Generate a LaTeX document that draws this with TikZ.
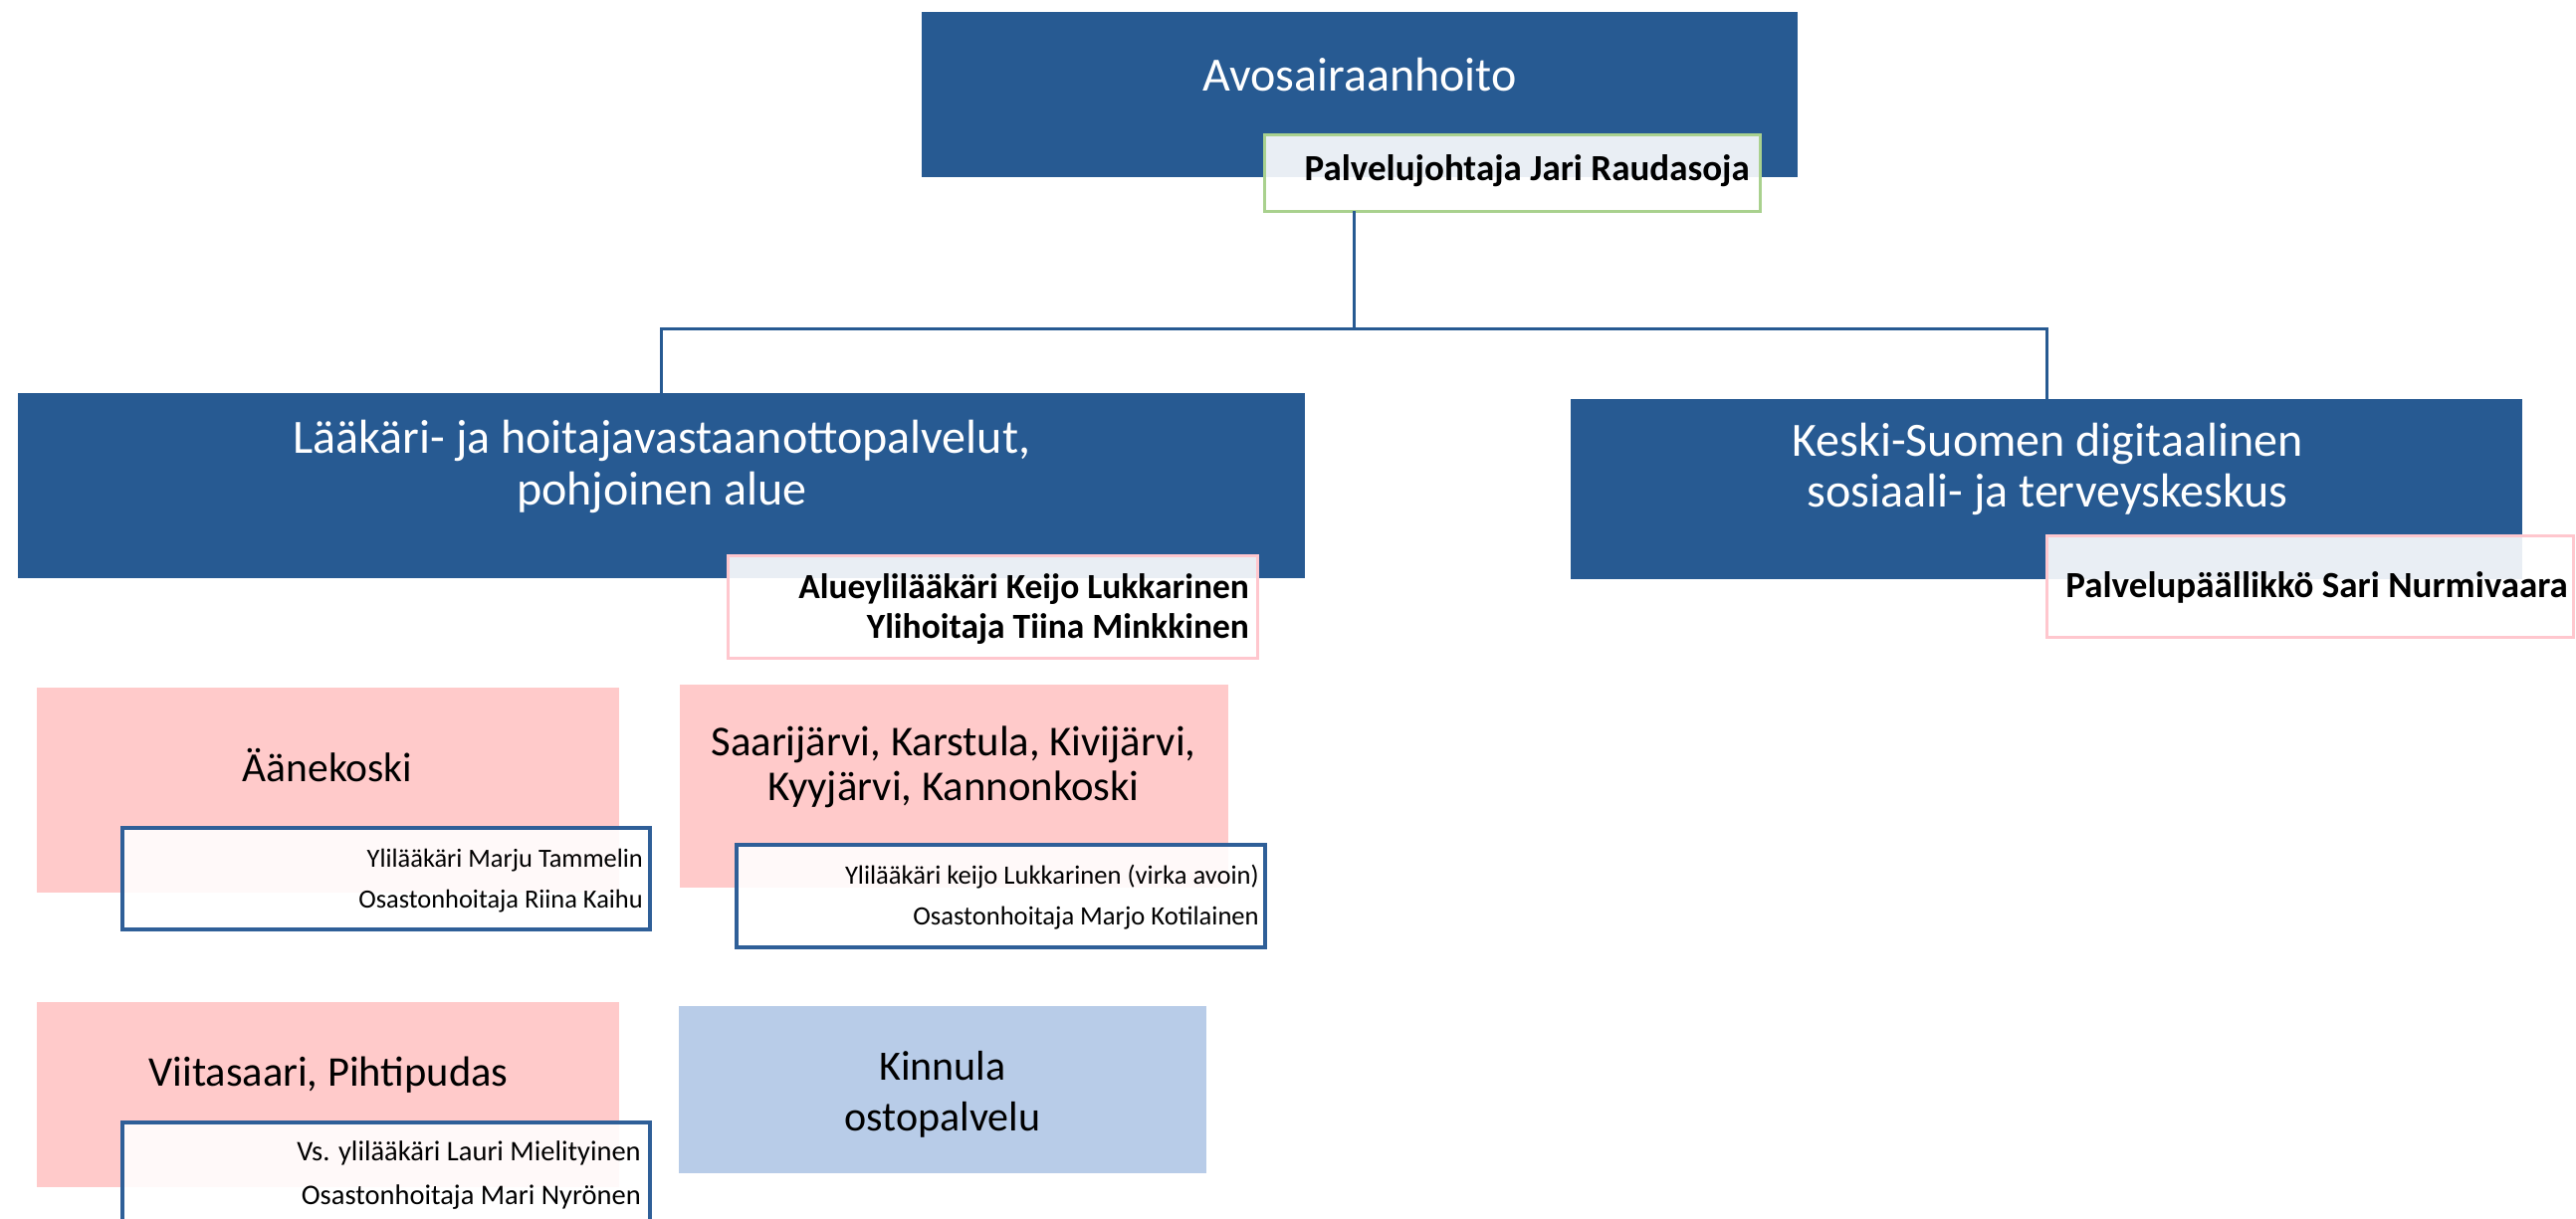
\documentclass[tikz,border=0pt]{standalone}
\usepackage{fontspec}
\setmainfont{Carlito}
\definecolor{dblue}{RGB}{39,90,146}
\definecolor{lpink}{RGB}{255,202,202}
\definecolor{lblue}{RGB}{184,204,232}
\definecolor{lgreen}{RGB}{169,209,142}
\definecolor{pinkline}{RGB}{255,199,206}
\definecolor{subline}{RGB}{47,95,152}
\begin{document}
\begin{tikzpicture}[x=1pt,y=-1pt,
  box/.style={anchor=north west, inner sep=0pt, outer sep=0pt},
  mainbox/.style={box, fill=dblue},
  namebox/.style={box, fill=white, fill opacity=0.9, line width=3pt},
  unitbox/.style={box, fill=lpink},
  subbox/.style={box, fill=white, fill opacity=0.9, draw=subline, line width=3.5pt},
  ttl/.style={anchor=base, inner sep=0pt, text=white, font=\fontsize{48}{56}\selectfont},
  boss/.style={anchor=base east, inner sep=0pt, font=\fontsize{36}{42}\selectfont\bfseries},
  unittext/.style={anchor=base, inner sep=0pt, font=\fontsize{42.5}{50}\selectfont},
  subtext/.style={anchor=base east, inner sep=0pt, font=\fontsize{26.4}{30}\selectfont},
  conn/.style={draw=dblue, line width=3pt}]
\useasboundingbox (0,0) rectangle (2588,1224);
\fill[white] (0,0) rectangle (2588,1224);

% boxes
\node[mainbox, minimum width=880pt, minimum height=166pt] (top) at (926,12) {};
\node[namebox, draw=lgreen, minimum width=498pt, minimum height=77pt] (palv) at (1270,135) {};
\node[mainbox, minimum width=1293pt, minimum height=186pt] (left) at (18,395) {};
\node[namebox, draw=pinkline, minimum width=532pt, minimum height=103pt] (alue) at (731,558) {};
\node[mainbox, minimum width=956pt, minimum height=181pt] (right) at (1578,401) {};
\node[namebox, draw=pinkline, minimum width=529pt, minimum height=102pt] (palvp) at (2056,538) {};

\node[unitbox, minimum width=585pt, minimum height=206pt] (aane) at (37,691) {};
\node[subbox, minimum width=530pt, minimum height=102pt] (aanesub) at (123,832) {};
\node[unitbox, minimum width=551pt, minimum height=204pt] (saari) at (683,688) {};
\node[subbox, minimum width=531pt, minimum height=103pt] (saarisub) at (740,849) {};
\node[unitbox, minimum width=585pt, minimum height=186pt] (viita) at (37,1007) {};
\node[subbox, minimum width=530pt, minimum height=110pt] (viitasub) at (123,1128) {};
\node[box, fill=lblue, minimum width=530pt, minimum height=168pt] (kinnula) at (682,1011) {};

% connectors
\coordinate (j) at (1360,330);
\draw[conn] (palv.south -| j) -- (j);
\draw[conn] (j) -- (j -| left.north) -- (left.north);
\draw[conn] (j) -- (j -| right.north) -- (right.north);

% texts
\node[ttl] (ttop) at (1366,91) {Avosairaanhoito};
\node[boss, font=\fontsize{37}{42}\selectfont\bfseries] (tpalv) at (1758,181) {Palvelujohtaja Jari Raudasoja};

\node[ttl] (tleft1) at (665,455) {Lääkäri- ja hoitajavastaanottopalvelut,};
\node[ttl] (tleft2) at (665,507) {pohjoinen alue};
\node[boss, font=\fontsize{35.5}{42}\selectfont\bfseries] (talue1) at (1255,601) {Alueylilääkäri Keijo Lukkarinen};
\node[boss, font=\fontsize{35.5}{42}\selectfont\bfseries] (talue2) at (1255,641) {Ylihoitaja Tiina Minkkinen};

\node[ttl] (tright1) at (2057,458) {Keski-Suomen digitaalinen};
\node[ttl] (tright2) at (2057,509) {sosiaali- ja terveyskeskus};
\node[boss, font=\fontsize{37}{42}\selectfont\bfseries] (tpalvp) at (2580,600) {Palvelupäällikkö Sari Nurmivaara};

\node[unittext, font=\fontsize{41.5}{50}\selectfont] (taane) at (329,785) {Äänekoski};
\node[subtext] (taanesub1) at (646,871) {Ylilääkäri Marju Tammelin};
\node[subtext] (taanesub2) at (646,912) {Osastonhoitaja Riina Kaihu};

\node[unittext, font=\fontsize{42.7}{50}\selectfont] (tsaari1) at (958,759) {Saarijärvi, Karstula, Kivijärvi,};
\node[unittext, font=\fontsize{42.7}{50}\selectfont] (tsaari2) at (958,804) {Kyyjärvi, Kannonkoski};
\node[subtext, font=\fontsize{26.6}{30}\selectfont] (tsaarisub1) at (1265,888) {Ylilääkäri keijo Lukkarinen (virka avoin)};
\node[subtext, font=\fontsize{26.6}{30}\selectfont] (tsaarisub2) at (1265,929) {Osastonhoitaja Marjo Kotilainen};

\node[unittext] (tviita) at (330,1091) {Viitasaari, Pihtipudas};
\node[subtext, font=\fontsize{28.5}{32}\selectfont] (tviitasub1) at (644,1166) {Vs. ylilääkäri Lauri Mielityinen};
\node[subtext, font=\fontsize{28.5}{32}\selectfont] (tviitasub2) at (644,1210) {Osastonhoitaja Mari Nyrönen};

\node[unittext, font=\fontsize{42}{50}\selectfont] (tkinnula1) at (947,1085) {Kinnula};
\node[unittext, font=\fontsize{42}{50}\selectfont] (tkinnula2) at (947,1136) {ostopalvelu};
\end{tikzpicture}
\end{document}
